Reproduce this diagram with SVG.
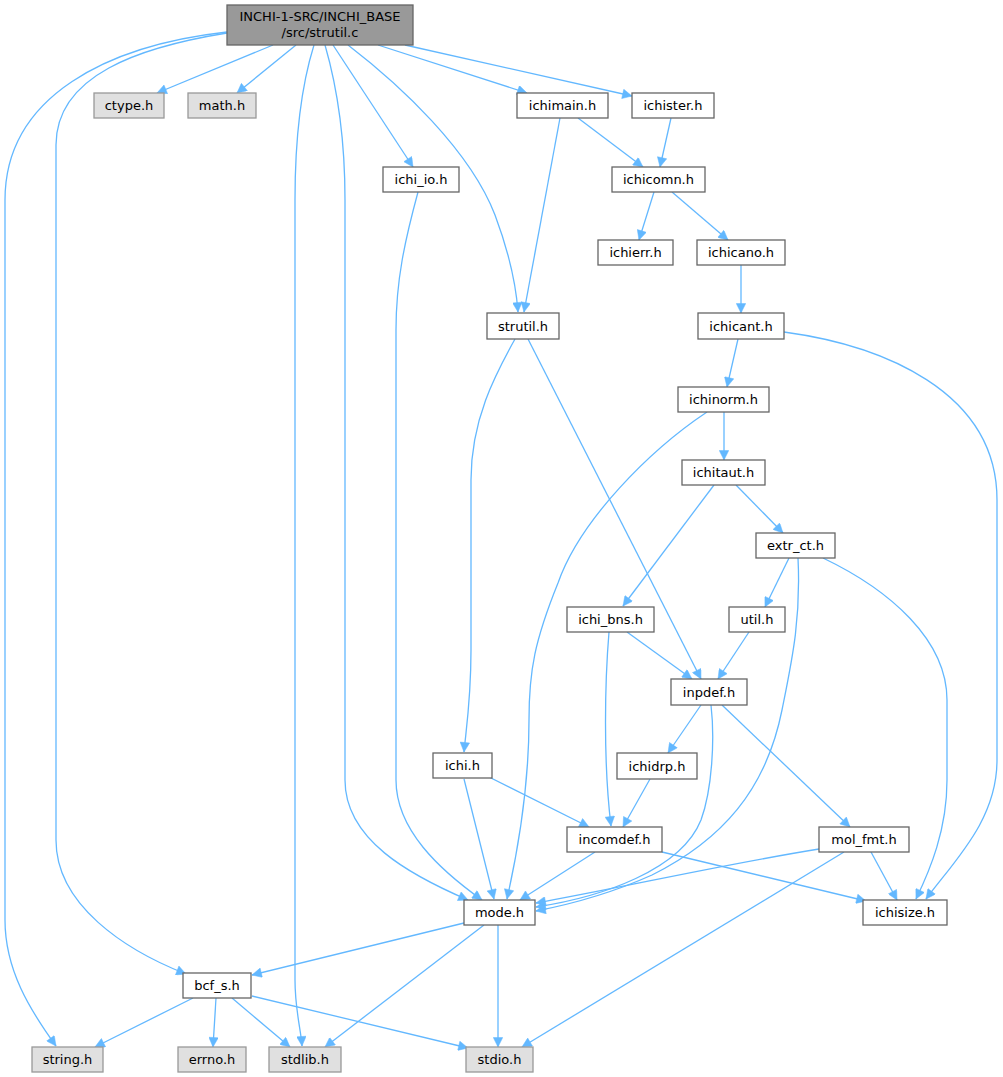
<svg xmlns="http://www.w3.org/2000/svg" width="1003" height="1077" viewBox="0 0 1003 1077">
<style>
.n rect{fill:#ffffff;stroke:#666666;stroke-width:1.3}
.g rect{fill:#e0e0e0;stroke:#999999;stroke-width:1.3}
.r rect{fill:#999999;stroke:#666666;stroke-width:1.3}
text{font-family:"DejaVu Sans","Liberation Sans",sans-serif;font-size:13px;fill:#000000;text-anchor:middle}
#edges path{fill:none;stroke:#63b8ff;stroke-width:1.3;marker-end:url(#arr)}
</style>
<defs>
<marker id="arr" viewBox="0 0 10 10" refX="10" refY="5" markerWidth="13" markerHeight="9.5" markerUnits="userSpaceOnUse" orient="auto">
<path d="M0,0 L10,5 L0,10 z" fill="#63b8ff" stroke="#63b8ff" stroke-width="0.5"/>
</marker>
</defs>
<rect width="1003" height="1077" fill="#ffffff"/>
<g id="edges">
<path d="M227,32 C110,45 5,95 5,200 L5,920 C5,970 30,1010 56,1046"/>
<path d="M227,33 C140,47 56,75 56,145 L56,840 C56,905 125,950 186,974"/>
<path d="M273,45 L157,93"/>
<path d="M296,45 L237,93"/>
<path d="M314,45 C300,90 295,140 295,200 L295,980 C295,1010 301,1030 302,1046"/>
<path d="M325,45 C338,90 345,140 345,200 L345,780 C345,840 410,875 468,900"/>
<path d="M333,45 L413,167"/>
<path d="M348,45 C400,85 470,150 495,215 C510,255 516,285 518,312"/>
<path d="M378,45 L527,93"/>
<path d="M405,45 L632,96"/>
<path d="M578,118 L643,167"/>
<path d="M560,118 L524,312"/>
<path d="M671,118 L660,167"/>
<path d="M654,192 L639,240"/>
<path d="M672,192 L728,240"/>
<path d="M741,265 L741,313"/>
<path d="M738,339 L727,387"/>
<path d="M784,332 C880,345 997,390 997,500 L997,760 C997,820 955,860 926,899"/>
<path d="M724,412 L724,460"/>
<path d="M707,412 C650,450 580,520 558,583 C535,640 529,670 529,720 C529,790 518,850 507,899"/>
<path d="M714,485 L623,606"/>
<path d="M736,485 L783,533"/>
<path d="M789,558 L765,607"/>
<path d="M823,558 C890,590 947,640 947,700 L947,780 C947,830 930,870 916,899"/>
<path d="M798,558 C801,620 792,660 782,710 C766,790 722,840 652,875 C612,893 572,904 536,911"/>
<path d="M749,632 L718,679"/>
<path d="M627,632 L692,679"/>
<path d="M609,632 C605,680 603,760 611,826"/>
<path d="M528,339 L701,679"/>
<path d="M515,339 C495,375 471,420 471,480 L471,650 C471,700 466,730 464,752"/>
<path d="M418,192 C405,240 396,280 396,330 L396,780 C396,830 440,870 482,900"/>
<path d="M701,705 L668,753"/>
<path d="M722,705 L850,827"/>
<path d="M711,705 C715,740 712,790 701,820 C681,870 602,897 536,907"/>
<path d="M650,779 L623,827"/>
<path d="M487,776 L589,827"/>
<path d="M464,779 L494,899"/>
<path d="M595,852 L520,900"/>
<path d="M662,852 L866,901"/>
<path d="M819,849 C720,865 620,888 536,903"/>
<path d="M871,852 L897,900"/>
<path d="M844,852 L522,1047"/>
<path d="M498,925 L498,1047"/>
<path d="M484,925 L325,1047"/>
<path d="M464,923 L252,975"/>
<path d="M193,998 L95,1047"/>
<path d="M216,998 L213,1047"/>
<path d="M232,998 L290,1047"/>
<path d="M252,996 L468,1048"/>
</g>
<g id="n_root" class="r"><rect x="227" y="5" width="186" height="40"/><text x="320" y="21">INCHI-1-SRC/INCHI_BASE</text><text x="320" y="37">/src/strutil.c</text></g>
<g id="n_ctype" class="g"><rect x="94" y="93" width="70" height="25"/><text x="129" y="110">ctype.h</text></g>
<g id="n_math" class="g"><rect x="188" y="93" width="68" height="25"/><text x="222" y="110">math.h</text></g>
<g id="n_ichimain" class="n"><rect x="517" y="93" width="91" height="25"/><text x="562.5" y="110">ichimain.h</text></g>
<g id="n_ichister" class="n"><rect x="632" y="93" width="82" height="25"/><text x="673" y="110">ichister.h</text></g>
<g id="n_ichi_io" class="n"><rect x="383" y="167" width="76" height="25"/><text x="421" y="184">ichi_io.h</text></g>
<g id="n_ichicomn" class="n"><rect x="612" y="167" width="93" height="25"/><text x="658.5" y="184">ichicomn.h</text></g>
<g id="n_ichierr" class="n"><rect x="598" y="240" width="75" height="25"/><text x="635.5" y="257">ichierr.h</text></g>
<g id="n_ichicano" class="n"><rect x="697" y="240" width="88" height="25"/><text x="741" y="257">ichicano.h</text></g>
<g id="n_strutil_h" class="n"><rect x="487" y="313" width="72" height="26"/><text x="523" y="330.5">strutil.h</text></g>
<g id="n_ichicant" class="n"><rect x="698" y="313" width="86" height="26"/><text x="741" y="330.5">ichicant.h</text></g>
<g id="n_ichinorm" class="n"><rect x="678" y="387" width="91" height="25"/><text x="723.5" y="404">ichinorm.h</text></g>
<g id="n_ichitaut" class="n"><rect x="682" y="460" width="83" height="25"/><text x="723.5" y="477">ichitaut.h</text></g>
<g id="n_extr_ct" class="n"><rect x="756" y="533" width="79" height="25"/><text x="795.5" y="550">extr_ct.h</text></g>
<g id="n_ichi_bns" class="n"><rect x="567" y="607" width="87" height="25"/><text x="610.5" y="624">ichi_bns.h</text></g>
<g id="n_util" class="n"><rect x="729" y="607" width="56" height="25"/><text x="757" y="624">util.h</text></g>
<g id="n_inpdef" class="n"><rect x="671" y="679" width="76" height="26"/><text x="709" y="696.5">inpdef.h</text></g>
<g id="n_ichidrp" class="n"><rect x="617" y="753" width="80" height="26"/><text x="657" y="770.5">ichidrp.h</text></g>
<g id="n_ichi" class="n"><rect x="433" y="753" width="59" height="25"/><text x="462.5" y="770">ichi.h</text></g>
<g id="n_incomdef" class="n"><rect x="567" y="827" width="95" height="25"/><text x="614.5" y="844">incomdef.h</text></g>
<g id="n_mol_fmt" class="n"><rect x="819" y="827" width="90" height="25"/><text x="864" y="844">mol_fmt.h</text></g>
<g id="n_mode" class="n"><rect x="464" y="900" width="71" height="25"/><text x="499.5" y="917">mode.h</text></g>
<g id="n_ichisize" class="n"><rect x="863" y="900" width="84" height="25"/><text x="905" y="917">ichisize.h</text></g>
<g id="n_bcf_s" class="n"><rect x="183" y="973" width="68" height="25"/><text x="217" y="990">bcf_s.h</text></g>
<g id="n_string" class="g"><rect x="32" y="1047" width="71" height="25"/><text x="67.5" y="1064">string.h</text></g>
<g id="n_errno" class="g"><rect x="178" y="1047" width="68" height="25"/><text x="212" y="1064">errno.h</text></g>
<g id="n_stdlib" class="g"><rect x="269" y="1047" width="72" height="25"/><text x="305" y="1064">stdlib.h</text></g>
<g id="n_stdio" class="g"><rect x="466" y="1047" width="67" height="25"/><text x="499.5" y="1064">stdio.h</text></g>
</svg>
